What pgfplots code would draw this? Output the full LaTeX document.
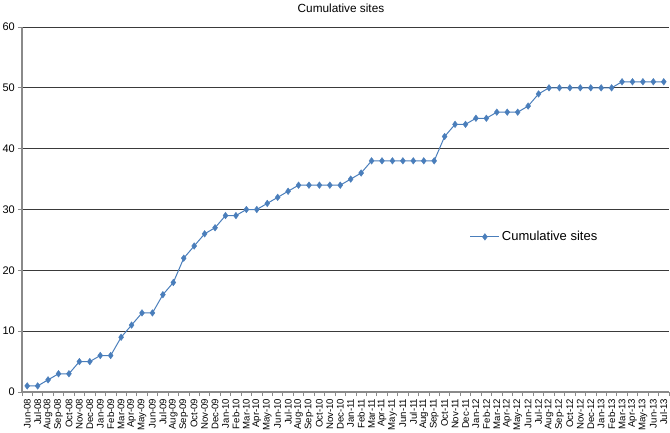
\documentclass[border=0pt]{standalone}
\usepackage{pgfplots}
\pgfplotsset{compat=1.18}
\usepackage{fontspec}
\setmainfont{Liberation Sans}
\definecolor{serblue}{HTML}{4A7EBB}
\definecolor{gridc}{HTML}{3A3A3A}
\definecolor{axc}{HTML}{8A8A8A}
\begin{document}
\begin{tikzpicture}[x=1pt,y=1pt]
\begin{axis}[
  at={(0,0)}, anchor=south west,
  scale only axis, width=647pt, height=365pt,
  xmin=-0.5, xmax=61.5, ymin=0, ymax=60,
  axis x line*=bottom, axis y line*=left,
  axis line style={-, draw=axc, line width=1.1pt},
  ytick={0,10,...,60},
  ymajorgrids, major grid style={draw=gridc, line width=0.9pt},
  tick align=outside,
  ytick style={draw=axc, line width=0.9pt},
  major tick length=4pt,
  xtick={0,...,61},
  x tick style={draw=none},
  minor xtick={-0.5,0.5,...,61.5},
  minor x tick style={draw=axc, line width=0.8pt},
  minor tick length=4pt,
  xticklabels={Jun-08,Jul-08,Aug-08,Sep-08,Oct-08,Nov-08,Dec-08,
    Jan-09,Feb-09,Mar-09,Apr-09,May-09,Jun-09,Jul-09,Aug-09,Sep-09,Oct-09,Nov-09,Dec-09,
    Jan-10,Feb-10,Mar-10,Apr-10,May-10,Jun-10,Jul-10,Aug-10,Sep-10,Oct-10,Nov-10,Dec-10,
    Jan-11,Feb-11,Mar-11,Apr-11,May-11,Jun-11,Jul-11,Aug-11,Sep-11,Oct-11,Nov-11,Dec-11,
    Jan-12,Feb-12,Mar-12,Apr-12,May-12,Jun-12,Jul-12,Aug-12,Sep-12,Oct-12,Nov-12,Dec-12,
    Jan-13,Feb-13,Mar-13,Apr-13,May-13,Jun-13,Jul-13},
  xticklabel shift=1.5pt,
  xticklabel style={rotate=90, anchor=east, font=\fontsize{9.6}{10}\selectfont, inner sep=1pt},
  yticklabel style={font=\fontsize{11}{12}\selectfont, inner sep=1pt, xshift=-2pt},
  /pgf/number format/assume math mode=true,
  legend style={draw=none, fill=none, at={(rel axis cs:0.692,0.425)}, anchor=west,
    font=\fontsize{13}{14}\selectfont, inner sep=0pt,
    legend cell align=left},
  legend image code/.code={\draw[#1, mark repeat=2, mark phase=2] plot coordinates {(0pt,0pt) (14.5pt,0pt) (29pt,0pt)};},
  clip=false,
]
\addplot[color=serblue, line width=1pt, mark=diamond*, mark size=3.3pt, mark options={fill=serblue, draw=serblue, line width=0.4pt}]
coordinates {
(0,1) (1,1) (2,2) (3,3) (4,3) (5,5) (6,5) (7,6) (8,6) (9,9)
(10,11) (11,13) (12,13) (13,16) (14,18) (15,22) (16,24) (17,26) (18,27) (19,29)
(20,29) (21,30) (22,30) (23,31) (24,32) (25,33) (26,34) (27,34) (28,34) (29,34)
(30,34) (31,35) (32,36) (33,38) (34,38) (35,38) (36,38) (37,38) (38,38) (39,38)
(40,42) (41,44) (42,44) (43,45) (44,45) (45,46) (46,46) (47,46) (48,47) (49,49)
(50,50) (51,50) (52,50) (53,50) (54,50) (55,50) (56,50) (57,51) (58,51) (59,51)
(60,51) (61,51)
};
\addlegendentry{Cumulative sites}
\node[font=\fontsize{11.8}{13}\selectfont, anchor=center] at (rel axis cs:0.493,1) [yshift=19pt] {Cumulative sites};
\end{axis}
\pgfresetboundingbox
\path (-22pt,-40pt) rectangle (648pt,392pt);
\end{tikzpicture}
\end{document}
